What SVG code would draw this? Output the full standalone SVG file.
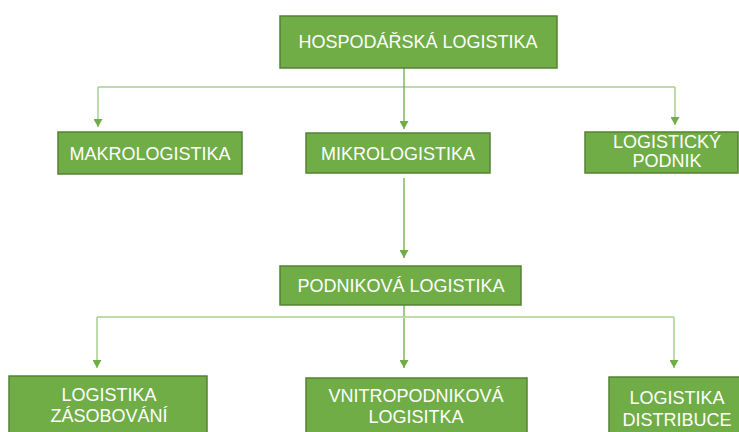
<svg xmlns="http://www.w3.org/2000/svg" width="739" height="432" viewBox="0 0 739 432">
<style>
.box{fill:#70AD47;stroke:#548235;stroke-width:1.5}
.t{font-family:"Liberation Sans",Arial,sans-serif;font-size:18px;fill:#ffffff;text-anchor:middle}
.c{fill:none;stroke:#70AD47;stroke-width:1.3}
.l{fill:none;stroke:#A9D18E;stroke-width:1.5}
</style>
<defs>
<marker id="a" markerWidth="8" markerHeight="9" refX="8" refY="4.5" orient="auto" markerUnits="userSpaceOnUse" viewBox="0 0 8 9">
<path d="M0,0 L8,4.5 L0,9 Z" fill="#70AD47"/>
</marker>
</defs>
<rect width="739" height="432" fill="#ffffff"/>
<g id="connectors">
<path class="l" d="M98,87 H675"/>
<path class="l" d="M98,87 V127" marker-end="url(#a)"/>
<path class="l" d="M675,87 V125" marker-end="url(#a)"/>
<path class="c" d="M404,68 V129" marker-end="url(#a)"/>
<path class="c" d="M404,178 V258" marker-end="url(#a)"/>
<path class="c" d="M404,305 V317"/>
<path class="l" d="M97,317 H674"/>
<path class="l" d="M97,317 V368" marker-end="url(#a)"/>
<path class="c" d="M404,318 V368" marker-end="url(#a)"/>
<path class="l" d="M674,317 V368" marker-end="url(#a)"/>
</g>
<g id="hospodarska">
<rect class="box" x="280" y="16" width="277" height="52"/>
<text class="t" x="418" y="48">HOSPODÁŘSKÁ LOGISTIKA</text>
</g>
<g id="makro">
<rect class="box" x="58" y="132" width="184" height="42"/>
<text class="t" x="150" y="160">MAKROLOGISTIKA</text>
</g>
<g id="mikro">
<rect class="box" x="306" y="133" width="184" height="40"/>
<text class="t" x="398" y="160">MIKROLOGISTIKA</text>
</g>
<g id="podnik">
<rect class="box" x="585" y="132" width="153" height="41"/>
<text class="t" x="667" y="148">LOGISTICKÝ</text>
<text class="t" x="667" y="167">PODNIK</text>
</g>
<g id="podnikova">
<rect class="box" x="280" y="266" width="241" height="39"/>
<text class="t" x="401" y="292">PODNIKOVÁ LOGISTIKA</text>
</g>
<g id="zasobovani">
<rect class="box" x="9" y="376" width="198" height="60"/>
<text class="t" x="109" y="401">LOGISTIKA</text>
<text class="t" x="109" y="422">ZÁSOBOVÁNÍ</text>
</g>
<g id="vnitropodnikova">
<rect class="box" x="306" y="378" width="221" height="60"/>
<text class="t" x="416" y="402">VNITROPODNIKOVÁ</text>
<text class="t" x="416" y="423">LOGISITKA</text>
</g>
<g id="distribuce">
<rect class="box" x="609" y="377" width="135" height="60"/>
<text class="t" x="677" y="404">LOGISTIKA</text>
<text class="t" x="677" y="426">DISTRIBUCE</text>
</g>
</svg>
